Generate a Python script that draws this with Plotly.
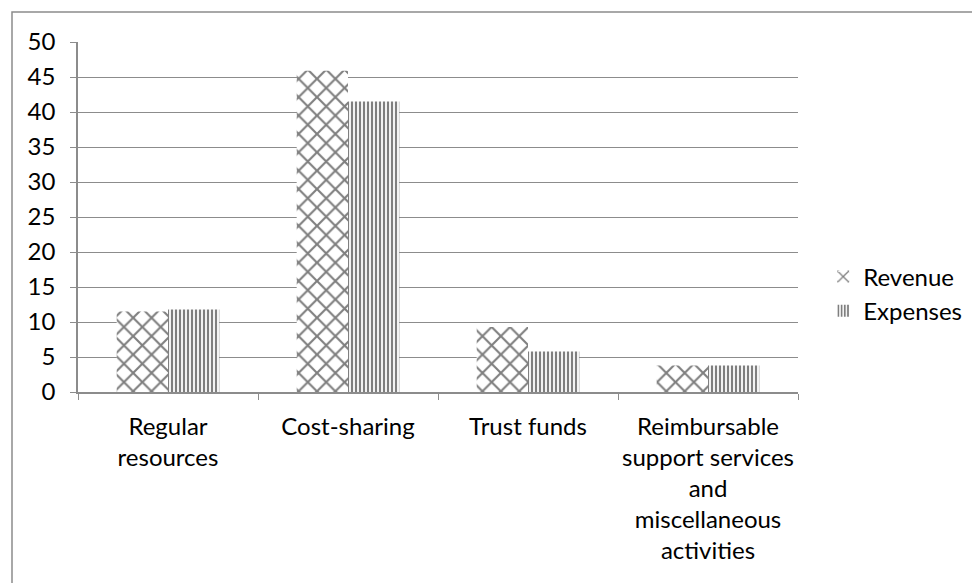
import plotly.graph_objects as go

categories = ["Regular<br>resources", "Cost-sharing", "Trust funds",
              "Reimbursable<br>support services<br>and<br>miscellaneous<br>activities"]
revenue = [11.5, 45.9, 9.3, 3.8]
expenses = [11.8, 41.5, 5.8, 3.8]
y_ticks = [0, 5, 10, 15, 20, 25, 30, 35, 40, 45, 50]

FONT = "Lato"
GRAY = "#8c8c8c"

fig = go.Figure()
fig.add_trace(go.Bar(
    name="Revenue", x=categories, y=revenue, legendgroup="a",
    marker=dict(color="white", line=dict(width=0),
                pattern=dict(shape="x", fgcolor="black", bgcolor="white",
                             size=13, solidity=0.3)),
))
fig.add_trace(go.Bar(
    name="Expenses", x=categories, y=expenses, legendgroup="b",
    marker=dict(color="white", line=dict(width=0),
                pattern=dict(shape="|", fgcolor="black", bgcolor="white",
                             size=4, solidity=0.55)),
))

fig.update_layout(
    width=972, height=583,
    margin=dict(l=78, r=174, t=42, b=191, autoexpand=False),
    paper_bgcolor="white", plot_bgcolor="white",
    barmode="group", bargap=0.43, bargroupgap=0,
    font=dict(family=FONT, size=24, color="black"),
    legend=dict(x=1.035, y=0.28, xanchor="left", yanchor="middle",
                traceorder="grouped", tracegroupgap=0,
                font=dict(family=FONT, size=24), itemwidth=30),
    shapes=[dict(type="rect", xref="paper", yref="paper",
                 x0=(12 - 78) / 720, x1=1.4, y0=-0.8, y1=1 + (42 - 12) / 350,
                 line=dict(color=GRAY, width=1.5), layer="below")],
)
fig.update_xaxes(
    showline=True, linecolor=GRAY, linewidth=1.5, tickangle=0, automargin=False,
    ticks="outside", ticklen=6, tickcolor=GRAY, tickson="boundaries",
    ticklabelstandoff=12, showgrid=False,
)
fig.update_yaxes(
    range=[0, 50], tickvals=y_ticks, showline=True, linecolor=GRAY, linewidth=1.5,
    automargin=False,
    ticks="outside", ticklen=6, tickcolor=GRAY, ticklabelstandoff=10,
    showgrid=True, gridcolor=GRAY, gridwidth=1.2, zeroline=False,
)

fig.write_html("out.html")
